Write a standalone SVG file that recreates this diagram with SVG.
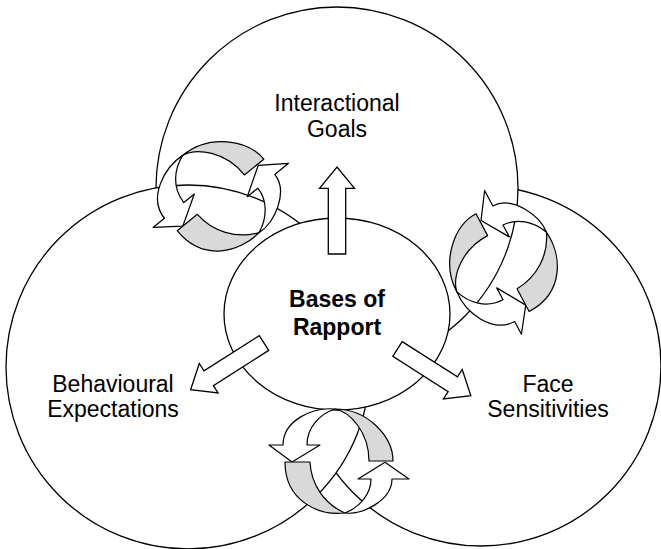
<svg xmlns="http://www.w3.org/2000/svg" xmlns:xlink="http://www.w3.org/1999/xlink" width="661" height="549" viewBox="0 0 661 549">
  <style>
    .domain { fill: #ffffff; stroke: #000000; stroke-width: 1.3; }
    .block { fill: #ffffff; stroke: #000000; stroke-width: 1.3; stroke-linejoin: miter; }
    .face { fill: #ffffff; stroke: #000000; stroke-width: 1.2; stroke-linejoin: round; }
    .back { fill: #d9d9d9; stroke: #000000; stroke-width: 1.2; stroke-linejoin: round; }
    .label { font-family: "Liberation Sans", Arial, Helvetica, sans-serif; font-size: 23px; fill: #000000; text-anchor: middle; }
    .core { font-weight: bold; }
  </style>
  <defs>
    <!-- straight block arrow pointing along +x, tail centred on the origin -->
    <polygon id="blockArrow" points="0,-8.7 65.6,-8.7 65.6,-17.5 87,0 65.6,17.5 65.6,8.7 0,8.7"/>
    <!-- twisted ribbon of two curved arrows running anticlockwise round the origin -->
    <g id="cycle">
      <path class="back" d="M31,-1 L55,-1 C55,-25 30,-53 -3,-53 C12,-50 31,-30 31,-1 Z"/>
      <path class="face" d="M-3,-53 C-25,-55 -55,-42 -55,-17 L-69,-17 L-46,0 L-18,-17 L-31,-17 C-31,-35 -18,-48 -3,-53 Z"/>
      <path class="back" d="M-53,0 L-28,0 C-27,22 -14,42 7,51 C-18,54 -53,40 -53,0 Z"/>
      <path class="face" d="M7,51 C25,53 54,38 54,17 L71,17 L47,0.3 L20,17 L33,17 C33,32 22,45 7,51 Z"/>
    </g>
  </defs>

  <!-- the three overlapping domains and the central base -->
  <g id="face-sensitivities">
    <circle class="domain" cx="481" cy="366" r="180"/>
  </g>
  <g id="interactional-goals">
    <circle class="domain" cx="337" cy="188" r="181"/>
  </g>
  <g id="behavioural-expectations">
    <circle class="domain" cx="188" cy="367" r="182"/>
  </g>
  <g id="bases-of-rapport">
    <ellipse class="domain" cx="337" cy="314" rx="113" ry="96"/>
  </g>

  <!-- block arrows from the base outwards -->
  <g id="connectors">
    <use xlink:href="#blockArrow" class="block" transform="translate(337,254) rotate(-90)"/>
    <use xlink:href="#blockArrow" class="block" transform="translate(264,343) rotate(147.5)"/>
    <use xlink:href="#blockArrow" class="block" transform="translate(397.5,349) rotate(32.5)"/>
  </g>

  <!-- interaction cycles where the domains overlap -->
  <g id="cycle-goals-behaviour">
    <use xlink:href="#cycle" transform="translate(220,196) rotate(-39) scale(1.04)"/>
  </g>
  <g id="cycle-goals-face">
    <use xlink:href="#cycle" transform="translate(503.5,263.3) rotate(-118) scale(1.03)"/>
  </g>
  <g id="cycle-behaviour-face">
    <use xlink:href="#cycle" transform="translate(338,462)"/>
  </g>

  <!-- labels -->
  <g id="labels">
    <text class="label" x="337" y="111">Interactional</text>
    <text class="label" x="337" y="137">Goals</text>
    <text class="label core" x="337" y="307">Bases of</text>
    <text class="label core" x="337" y="335">Rapport</text>
    <text class="label" x="113" y="392">Behavioural</text>
    <text class="label" x="113" y="417">Expectations</text>
    <text class="label" x="548" y="392">Face</text>
    <text class="label" x="548" y="417">Sensitivities</text>
  </g>
</svg>
